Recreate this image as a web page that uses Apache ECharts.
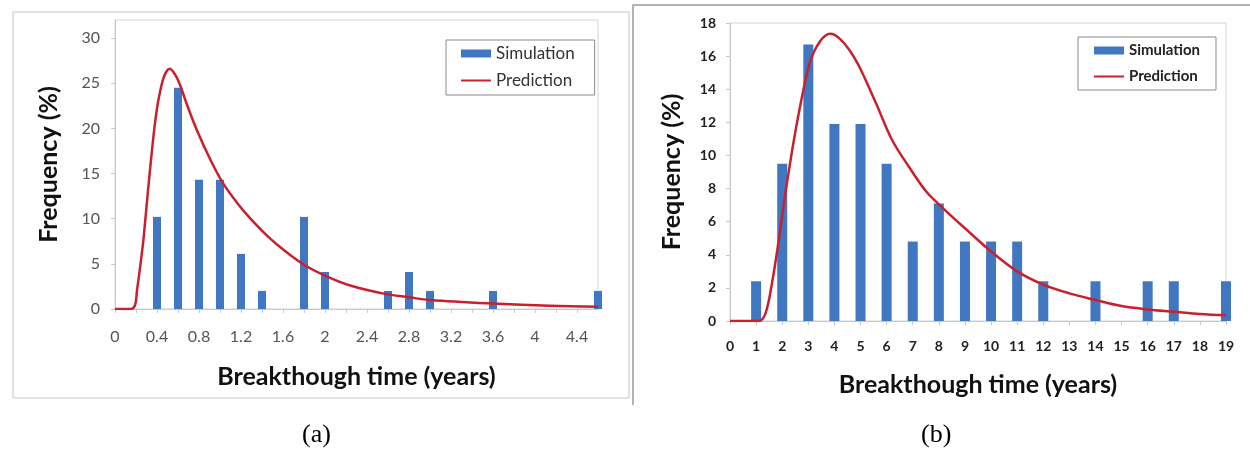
<!DOCTYPE html>
<html>
<head>
<meta charset="utf-8">
<script src="https://cdn.jsdelivr.net/npm/echarts@6/dist/echarts.min.js"></script>
<style>
  html, body { margin: 0; padding: 0; background: #fff; }
  #chart { width: 1250px; height: 457px; }
</style>
</head>
<body>
<div id="chart"></div>
<script>
// panel (a): simulated histogram + predicted curve
const simA_x = [0.4, 0.6, 0.8, 1.0, 1.2, 1.4, 1.8, 2.0, 2.6, 2.8, 3.0, 3.6, 4.6]
const simA_y = [10.2, 24.5, 14.3, 14.3, 6.1, 2.0, 10.2, 4.1, 2.0, 4.1, 2.0, 2.0, 2.0]
const predA_x = [0, 0.15, 0.19, 0.21, 0.24, 0.27, 0.30, 0.33, 0.37, 0.40, 0.43, 0.46, 0.49, 0.52, 0.57, 0.62, 0.68, 0.78, 0.91, 1.03, 1.16, 1.29, 1.45, 1.61, 1.80, 2.0, 2.24, 2.56, 2.8, 3.0, 3.6, 4.14, 4.6]
const predA_y = [0, 0, 0.4, 2.1, 4.7, 7.6, 11.3, 15.0, 19.5, 22.2, 24.1, 25.5, 26.3, 26.6, 26.0, 24.8, 22.8, 19.8, 16.5, 13.9, 11.8, 10.0, 8.1, 6.5, 4.9, 3.7, 2.6, 1.7, 1.3, 1.0, 0.6, 0.35, 0.25]

// panel (b)
const simB_x = [1, 2, 3, 4, 5, 6, 7, 8, 9, 10, 11, 12, 14, 16, 17, 19]
const simB_y = [2.4, 9.5, 16.7, 11.9, 11.9, 9.5, 4.8, 7.1, 4.8, 4.8, 4.8, 2.4, 2.4, 2.4, 2.4, 2.4]
const predB_x = [0, 1.1, 1.36, 1.61, 1.87, 2.12, 2.38, 2.64, 3.0, 3.2, 3.45, 3.66, 3.85, 4.17, 4.56, 4.94, 5.58, 6.22, 6.86, 7.5, 8, 9, 10, 11, 12, 13, 14, 15, 16, 17, 18, 19]
const predB_y = [0, 0, 0.46, 2.3, 4.9, 7.7, 10.3, 12.6, 15.3, 16.2, 16.9, 17.25, 17.35, 17.1, 16.4, 15.4, 13.2, 10.9, 9.3, 7.85, 7.05, 5.6, 4.2, 3.0, 2.2, 1.67, 1.27, 0.9, 0.7, 0.56, 0.42, 0.34]

const zip = (xs, ys) => xs.map((x, i) => [x, ys[i]])

const BLUE = '#4177c1'
const RED = '#c8202e'
const FONT = 'Lato'

const chart = echarts.init(document.getElementById('chart'))

const titleStyle = { fontFamily: FONT, fontWeight: 'bold', fontSize: 25, color: '#111' }
// line-only legend entry (no marker in the middle)
const predLegend = { name: 'Prediction', itemStyle: { color: 'rgba(0,0,0,0)', borderWidth: 0 } }

const option = {
  animation: false,
  grid: [
    { left: 115, top: 20, width: 483, height: 289, show: true, borderColor: '#d4d4d4', borderWidth: 1 },
    { left: 730, top: 23, width: 496, height: 298, show: true, borderColor: '#d4d4d4', borderWidth: 1 },
  ],
  xAxis: [
    {
      gridIndex: 0,
      type: 'value',
      min: 0,
      max: 4.6,
      interval: 0.2,
      axisLine: { lineStyle: { color: '#c8c8c8' } },
      axisTick: { show: true, length: 4, lineStyle: { color: '#c8c8c8' } },
      splitLine: { show: false },
      axisLabel: {
        margin: 20,
        fontFamily: FONT,
        fontSize: 16,
        color: '#555',
        showMaxLabel: false,
        formatter: (v) => (Math.round(v * 10) % 4 === 0 ? String(+v.toFixed(1)) : ''),
      },
      name: 'Breakthough time (years)',
      nameLocation: 'middle',
      nameGap: 55,
      nameTextStyle: titleStyle,
    },
    {
      gridIndex: 1,
      type: 'value',
      min: 0,
      max: 19,
      interval: 1,
      axisLine: { lineStyle: { color: '#c8c8c8' } },
      axisTick: { show: true, length: 4, lineStyle: { color: '#c8c8c8' } },
      splitLine: { show: false },
      axisLabel: { margin: 18, fontFamily: FONT, fontSize: 14, fontWeight: 'bold', color: '#222' },
      name: 'Breakthough time (years)',
      nameLocation: 'middle',
      nameGap: 51,
      nameTextStyle: titleStyle,
    },
  ],
  yAxis: [
    {
      gridIndex: 0,
      type: 'value',
      min: 0,
      max: 32,
      interval: 5,
      axisLine: { show: true, lineStyle: { color: '#c8c8c8' } },
      axisTick: { show: true, length: 4, lineStyle: { color: '#c8c8c8' } },
      splitLine: { show: false },
      axisLabel: { margin: 15, fontFamily: FONT, fontSize: 16, color: '#555', showMaxLabel: false },
      name: 'Frequency (%)',
      nameLocation: 'middle',
      nameRotate: 90,
      nameGap: 54,
      nameTextStyle: titleStyle,
    },
    {
      gridIndex: 1,
      type: 'value',
      min: 0,
      max: 18,
      interval: 2,
      axisLine: { show: true, lineStyle: { color: '#c8c8c8' } },
      axisTick: { show: true, length: 4, lineStyle: { color: '#c8c8c8' } },
      splitLine: { show: false },
      axisLabel: { margin: 14, fontFamily: FONT, fontSize: 14, fontWeight: 'bold', color: '#222' },
      name: 'Frequency (%)',
      nameLocation: 'middle',
      nameRotate: 90,
      nameGap: 46,
      nameTextStyle: titleStyle,
    },
  ],
  legend: [
    {
      left: 446,
      top: 40,
      orient: 'vertical',
      itemWidth: 30,
      itemHeight: 8,
      itemGap: 10,
      padding: [5, 20, 6, 14],
      borderColor: '#8a8a8a',
      borderWidth: 1,
      backgroundColor: '#fff',
      textStyle: { fontFamily: FONT, fontSize: 17, color: '#333' },
      data: [{ name: 'Simulation', icon: 'rect' }, predLegend],
    },
    {
      left: 1078,
      top: 37,
      orient: 'vertical',
      itemWidth: 30,
      itemHeight: 8,
      itemGap: 11,
      padding: [6, 16, 6, 15],
      borderColor: '#8a8a8a',
      borderWidth: 1,
      backgroundColor: '#fff',
      textStyle: { fontFamily: FONT, fontSize: 15, fontWeight: 'bold', color: '#222' },
      data: [{ name: 'Simulation', icon: 'rect' }, predLegend],
    },
  ],
  series: [
    {
      name: 'Simulation',
      type: 'bar',
      xAxisIndex: 0,
      yAxisIndex: 0,
      barWidth: 8,
      clip: true,
      itemStyle: { color: BLUE },
      data: zip(simA_x, simA_y),
    },
    {
      name: 'Prediction',
      type: 'line',
      xAxisIndex: 0,
      yAxisIndex: 0,
      smooth: 0.35,
      symbol: 'none',
      lineStyle: { color: RED, width: 2.5 },
      itemStyle: { color: RED },
      data: zip(predA_x, predA_y),
    },
    {
      name: 'Simulation',
      type: 'bar',
      xAxisIndex: 1,
      yAxisIndex: 1,
      barWidth: 10,
      clip: true,
      itemStyle: { color: BLUE },
      data: zip(simB_x, simB_y),
    },
    {
      name: 'Prediction',
      type: 'line',
      xAxisIndex: 1,
      yAxisIndex: 1,
      smooth: 0.35,
      symbol: 'none',
      lineStyle: { color: RED, width: 2.5 },
      itemStyle: { color: RED },
      data: zip(predB_x, predB_y),
    },
  ],
  graphic: [
    // chart-area frame of panel (a)
    { type: 'rect', shape: { x: 13, y: 12, width: 616, height: 386 }, style: { fill: 'none', stroke: '#c4c4c4', lineWidth: 1 }, z: -1 },
    // frame of panel (b)
    { type: 'polyline', shape: { points: [[633, 405], [633, 5], [1250, 5]] }, style: { fill: 'none', stroke: '#9a9a9a', lineWidth: 1.5 }, z: -1 },
    { type: 'text', left: 302, top: 422, style: { text: '(a)', font: '26px "Liberation Serif"', fill: '#000' } },
    { type: 'text', left: 921, top: 422, style: { text: '(b)', font: '26px "Liberation Serif"', fill: '#000' } },
  ],
}

chart.setOption(option)
window.addEventListener('resize', () => chart.resize())
</script>
</body>
</html>
